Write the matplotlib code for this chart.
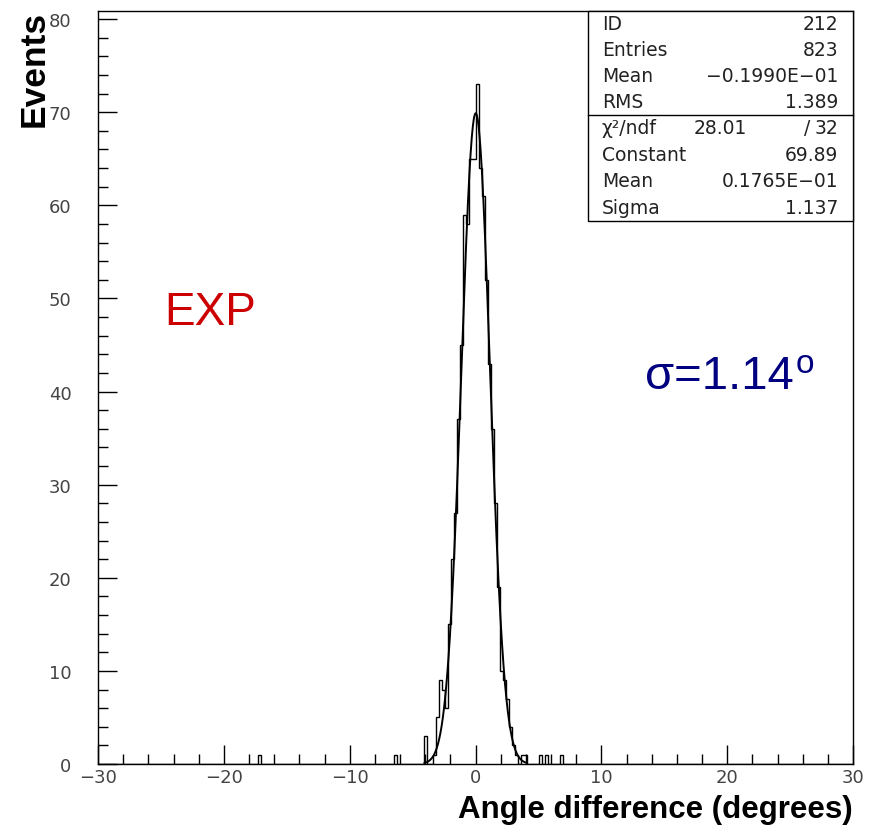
import numpy as np
import matplotlib
matplotlib.use("Agg")
import matplotlib.pyplot as plt
from matplotlib.patches import Rectangle
from matplotlib.lines import Line2D

# ---------------- data ----------------
bin_centers = [-17.16, -6.36,
               -3.96, -3.72, -3.48, -3.24, -3.00, -2.76, -2.52, -2.28, -2.04, -1.80,
               -1.56, -1.32, -1.08, -0.84, -0.60, -0.36, -0.12, 0.12, 0.36, 0.60,
               0.84, 1.08, 1.32, 1.56, 1.80, 2.04, 2.28, 2.52, 2.76, 3.00, 3.24,
               3.48, 3.72, 3.96,
               5.16, 5.64, 6.84]
bin_counts = [1, 1,
              3, 0, 0, 1, 5, 9, 8, 6, 15, 22,
              27, 37, 45, 59, 58, 65, 65, 73, 64, 61,
              52, 43, 36, 28, 19, 10, 9, 7, 4, 2, 1,
              0, 1, 1,
              1, 1, 1]
stat_labels = ["ID", "Entries", "Mean", "RMS"]
stat_values = ["212", "823", "\u22120.1990E\u221201", "1.389"]
chi2_value, ndf_value = "28.01", "32"
fit_labels = ["Constant", "Mean", "Sigma"]
fit_values = ["69.89", "0.1765E\u221201", "1.137"]
fit_constant, fit_mean, fit_sigma = 69.89, 0.01765, 1.137
x_ticks = [-30, -20, -10, 0, 10, 20, 30]
y_ticks = [0, 10, 20, 30, 40, 50, 60, 70, 80]

# ---------------- figure ----------------
W, H = 876, 829
fig = plt.figure(figsize=(W / 100, H / 100), dpi=100)


def fx(px):
    return px / W


def fy(py):
    return 1 - py / H


ax = fig.add_axes([fx(98), fy(765), fx(853) - fx(98), fy(11.7) - fy(765)])

edges = np.linspace(-30, 30, 251)
hist, _ = np.histogram(bin_centers, bins=edges, weights=bin_counts)
ax.stairs(hist, edges, color="black", lw=1.0)

xf = np.linspace(-4.05, 4.05, 500)
yf = fit_constant * np.exp(-0.5 * ((xf - fit_mean) / fit_sigma) ** 2)
ax.plot(xf, yf, color="black", lw=1.4)

ax.set_xlim(-30, 30)
ax.set_ylim(0, 80.9)
ax.set_xticks(x_ticks)
ax.set_xticklabels([("\u2212" + str(abs(t))) if t < 0 else str(t) for t in x_ticks])
ax.set_xticks(np.arange(-30, 31, 2), minor=True)
ax.set_yticks(y_ticks)
ax.set_yticks(np.arange(0, 81, 2), minor=True)
ax.tick_params(which="major", direction="in", length=14, width=1, labelsize=13,
               labelcolor="#444444")
ax.tick_params(which="minor", direction="in", length=7, width=1)
ax.tick_params(axis="y", which="major", pad=19)
ax.tick_params(axis="x", which="major", pad=3)
for s in ax.spines.values():
    s.set_linewidth(1.0)

# axis labels
fig.text(fx(853), fy(810), "Angle difference (degrees)", ha="right", va="center",
         fontsize=22.5, fontweight="bold", family="Liberation Sans")
fig.text(fx(34), fy(69), "Events", ha="center", va="center", rotation=90,
         fontsize=25.5, fontweight="bold", family="Liberation Sans")

# annotations
fig.text(fx(164), fy(325), "EXP", ha="left", va="baseline", fontsize=33,
         color="#cc0000", family="Liberation Sans")
fig.text(fx(645), fy(389), "\u03c3=1.14", ha="left", va="baseline", fontsize=34,
         color="#000080", family="Liberation Sans")
fig.text(fx(796), fy(373), "o", ha="left", va="baseline", fontsize=24,
         color="#000080", family="Liberation Sans")

# stats box
bx0, bx1, by0, by1 = 588, 853, 11.7, 222
fig.patches.append(Rectangle((fx(bx0), fy(by1)), fx(bx1) - fx(bx0), fy(by0) - fy(by1),
                             transform=fig.transFigure, fill=True, facecolor="white",
                             edgecolor="black", lw=1.0, zorder=5))
fig.lines.append(Line2D([fx(bx0), fx(bx1)], [fy(116), fy(116)], transform=fig.transFigure,
                        color="black", lw=1.0, zorder=6))
tkw = dict(fontsize=13.5, color="#222222", va="center", zorder=7)
rows_top = [24, 50, 77, 102]
for lab, val, yy in zip(stat_labels, stat_values, rows_top):
    fig.text(fx(602), fy(yy), lab, ha="left", **tkw)
    fig.text(fx(838), fy(yy), val, ha="right", **tkw)
fig.text(fx(602), fy(129), "\u03c7\u00b2/ndf", ha="left", **tkw)
fig.text(fx(747), fy(129), chi2_value, ha="right", **tkw)
fig.text(fx(807), fy(129), "/", ha="center", **tkw)
fig.text(fx(838), fy(129), ndf_value, ha="right", **tkw)
rows_bot = [156, 182, 209]
for lab, val, yy in zip(fit_labels, fit_values, rows_bot):
    fig.text(fx(602), fy(yy), lab, ha="left", **tkw)
    fig.text(fx(838), fy(yy), val, ha="right", **tkw)

fig.savefig("out.png", dpi=100)
